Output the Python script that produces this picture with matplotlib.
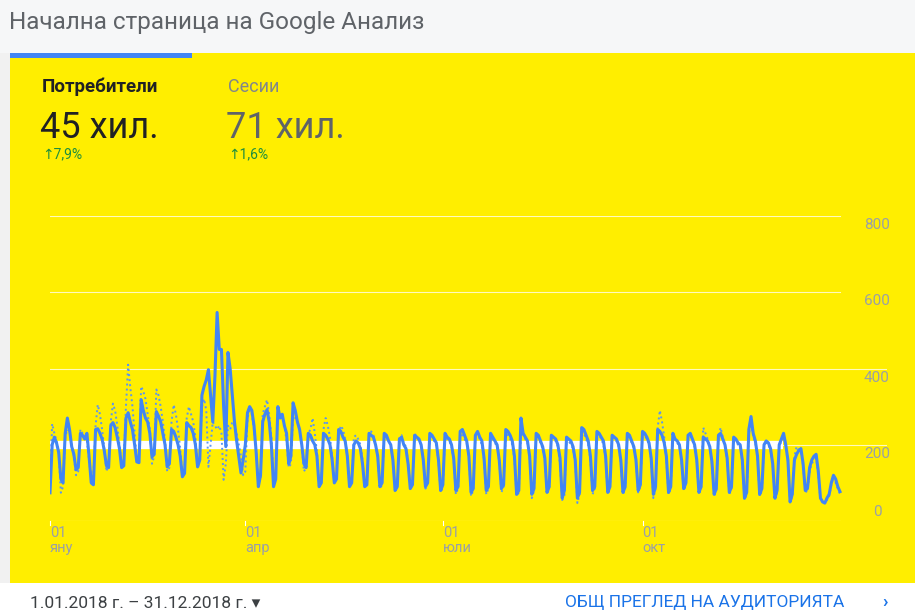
import numpy as np
import matplotlib
matplotlib.use("Agg")
import matplotlib.pyplot as plt
from matplotlib.patches import Rectangle

plt.rcParams['font.family'] = ['Roboto', 'DejaVu Sans']

# daily users 2018 (one row per week, Mon..Sun)
users = [
    74, 200, 220, 205, 180, 110, 100,
    230, 270, 240, 195, 175, 134, 140,
    230, 225, 215, 230, 170, 100, 95,
    240, 242, 230, 215, 185, 145, 140,
    250, 258, 245, 220, 190, 140, 145,
    270, 284, 260, 240, 200, 155, 153,
    318, 290, 270, 260, 230, 168, 175,
    287, 275, 260, 230, 200, 142, 150,
    240, 235, 220, 200, 170, 116, 125,
    258, 250, 245, 230, 200, 142, 160,
    330, 353, 370, 397, 330, 260, 380,
    547, 450, 450, 300, 195, 442, 400,
    330, 260, 210, 168, 126, 160, 200,
    284, 300, 290, 250, 180, 90, 120,
    260, 280, 292, 260, 200, 90, 110,
    300, 270, 280, 250, 230, 150, 170,
    310, 290, 260, 240, 200, 150, 140,
    230, 225, 210, 200, 170, 90, 100,
    230, 225, 215, 200, 160, 100, 110,
    240, 235, 220, 210, 170, 90, 100,
    200, 210, 205, 190, 150, 90, 95,
    230, 225, 220, 200, 170, 90, 100,
    230, 225, 210, 200, 160, 80, 90,
    215, 220, 200, 190, 150, 85, 95,
    225, 220, 215, 200, 160, 90, 100,
    230, 225, 215, 205, 160, 80, 95,
    230, 220, 215, 200, 165, 80, 90,
    235, 240, 225, 210, 170, 75, 85,
    225, 235, 220, 210, 165, 80, 90,
    230, 220, 210, 200, 160, 85, 95,
    240, 235, 225, 210, 170, 70, 80,
    270, 230, 220, 210, 170, 70, 85,
    230, 225, 210, 195, 165, 75, 90,
    225, 220, 215, 200, 165, 60, 80,
    220, 215, 210, 195, 160, 60, 75,
    245, 240, 225, 210, 170, 80, 90,
    235, 230, 220, 210, 170, 75, 90,
    225, 220, 215, 200, 160, 75, 90,
    230, 225, 210, 195, 160, 80, 95,
    235, 230, 220, 205, 165, 70, 90,
    240, 235, 225, 205, 170, 75, 90,
    230, 215, 210, 200, 160, 85, 100,
    225, 230, 215, 200, 160, 75, 90,
    220, 215, 210, 195, 155, 70, 85,
    225, 230, 215, 200, 165, 75, 90,
    220, 215, 205, 200, 160, 60, 75,
    240, 274, 230, 210, 170, 70, 85,
    200, 210, 205, 190, 150, 60, 80,
    200, 215, 230, 200, 160, 50, 70,
    160, 175, 185, 190, 150, 80, 85,
    140, 160, 170, 175, 130, 60, 50,
    47, 60, 70, 100, 120, 110, 90,
    77,
]

# previous period (dotted)
previous = [
    90, 255, 230, 210, 180, 74, 90,
    220, 240, 235, 200, 170, 120, 130,
    240, 230, 220, 210, 160, 110, 120,
    250, 305, 280, 240, 190, 130, 150,
    260, 308, 290, 250, 200, 150, 160,
    300, 410, 350, 300, 230, 160, 170,
    353, 340, 320, 280, 240, 150, 170,
    345, 330, 300, 260, 210, 130, 140,
    260, 305, 280, 240, 190, 120, 130,
    270, 300, 280, 260, 220, 140, 160,
    300, 320, 290, 142, 200, 260, 250,
    240, 250, 230, 108, 150, 250, 240,
    260, 250, 230, 200, 170, 120, 130,
    270, 290, 280, 240, 180, 100, 110,
    280, 300, 318, 280, 220, 110, 120,
    290, 280, 270, 250, 210, 140, 150,
    280, 270, 260, 240, 200, 130, 140,
    230, 240, 270, 230, 180, 90, 100,
    240, 270, 250, 220, 170, 100, 110,
    230, 250, 240, 215, 170, 90, 100,
    220, 225, 215, 200, 160, 90, 95,
    230, 235, 225, 205, 165, 85, 95,
    225, 220, 210, 200, 160, 80, 90,
    220, 225, 205, 195, 155, 85, 95,
    230, 220, 210, 200, 160, 85, 100,
    225, 220, 210, 200, 155, 75, 90,
    220, 215, 210, 195, 160, 70, 85,
    230, 225, 215, 205, 165, 65, 80,
    220, 230, 215, 200, 160, 70, 85,
    225, 215, 205, 195, 155, 75, 90,
    230, 225, 215, 200, 160, 65, 75,
    235, 225, 215, 205, 165, 60, 80,
    225, 220, 205, 190, 160, 70, 85,
    220, 215, 210, 195, 150, 55, 65,
    215, 210, 200, 190, 155, 47, 70,
    246, 230, 215, 200, 160, 70, 85,
    230, 225, 215, 200, 165, 70, 85,
    220, 215, 210, 195, 155, 70, 85,
    225, 220, 205, 190, 155, 75, 90,
    230, 225, 215, 200, 160, 60, 85,
    245, 290, 260, 220, 160, 70, 85,
    225, 215, 205, 195, 155, 80, 95,
    220, 225, 210, 195, 155, 70, 85,
    245, 230, 215, 195, 150, 65, 80,
    220, 245, 220, 200, 160, 70, 85,
    215, 210, 200, 195, 155, 55, 70,
    230, 250, 225, 205, 165, 65, 80,
    195, 205, 200, 185, 145, 55, 75,
    195, 210, 220, 195, 155, 50, 65,
    170, 195, 185, 180, 145, 75, 80,
    130, 150, 160, 165, 120, 55, 50,
    50, 55, 65, 95, 115, 100, 85,
    70,
]

y_ticks = [0, 200, 400, 600, 800]
tick_days = [0, 90, 181, 273]
tick_months = ["яну", "апр", "юли", "окт"]

YELLOW = "#ffee00"
BLUE = "#4285f4"
GREY = "#9aa0a6"

W, H = 915, 612
fig = plt.figure(figsize=(W / 100, H / 100), dpi=100)
fig.patch.set_facecolor("white")


def fx(x):
    return x / W


def fy(y):
    return 1 - y / H


# page background bits
fig.patches.append(Rectangle((0, fy(53)), 1, 1 - fy(53), transform=fig.transFigure,
                             facecolor="#f6f7f8", edgecolor="none", zorder=0))
fig.patches.append(Rectangle((0, fy(583)), fx(10), fy(53) - fy(583), transform=fig.transFigure,
                             facecolor="#f1f1f1", edgecolor="none", zorder=0))
fig.patches.append(Rectangle((fx(10), fy(583)), 1 - fx(10), fy(53) - fy(583),
                             transform=fig.transFigure, facecolor=YELLOW, edgecolor="none", zorder=0))
fig.patches.append(Rectangle((fx(10), fy(58)), fx(192) - fx(10), fy(53) - fy(58),
                             transform=fig.transFigure, facecolor=BLUE, edgecolor="none", zorder=1))

fig.text(fx(9), fy(22), "Начална страница на Google Анализ", fontsize=17.5,
         color="#5f6368", va="center", ha="left")

fig.text(fx(42), fy(87), "Потребители", fontsize=13.5, fontweight="bold",
         color="#202124", va="center")
fig.text(fx(228), fy(87), "Сесии", fontsize=13, color="#80868b", va="center")
fig.text(fx(40), fy(128), "45 хил.", fontsize=26, color="#202124", va="center")
fig.text(fx(226), fy(128), "71 хил.", fontsize=26, color="#5f6368", va="center")
fig.text(fx(42), fy(154), "↑7,9%", fontsize=10, color="#1e8e3e", va="center",
         family=['Roboto', 'DejaVu Sans'])
fig.text(fx(228), fy(154), "↑1,6%", fontsize=10, color="#1e8e3e", va="center",
         family=['Roboto', 'DejaVu Sans'])

fig.text(fx(30), fy(603), "1.01.2018 г. – 31.12.2018 г. ▾", fontsize=12.5,
         color="#3c4043", va="center", family=['Roboto', 'DejaVu Sans'])
fig.text(fx(565), fy(603), "ОБЩ ПРЕГЛЕД НА АУДИТОРИЯТА", fontsize=12.5,
         color="#1a73e8", va="center")
fig.text(fx(885), fy(602), "›", fontsize=13, color="#1a73e8", va="center",
         ha="center", fontweight="bold")

# chart
n_days = len(users)
days = np.arange(n_days)
x_max = (n_days - 1) * (887 - 50) / (840 - 50)
ax = fig.add_axes([fx(50), fy(521), fx(887) - fx(50), fy(216) - fy(521)])
ax.set_zorder(5)
ax.patch.set_visible(False)
ax.set_xlim(0, x_max)
ax.set_ylim(0, 800)
ax.axis("off")

lbl_x = x_max * (877 - 50) / (887 - 50)
for v in y_ticks[1:]:
    right = (840 - 50) / (887 - 50) if v >= 600 else 1
    ax.axhline(v, xmin=0, xmax=right, color="white", lw=0.8, alpha=0.75, zorder=1)
    ax.text(lbl_x, v - 24, str(v), ha="center", va="center", fontsize=11, color=GREY)
ax.axhline(0, xmin=0, xmax=(840 - 50) / (887 - 50), color="white", lw=0.8, alpha=0.8, zorder=1)
ax.text(lbl_x, 24, "0", ha="center", va="center", fontsize=11, color=GREY)

# thick white band at 200
ax.plot([0, (783 - 50) / 2.17], [200, 200], color="white", lw=6, solid_capstyle="butt", zorder=2)

for d, m in zip(tick_days, tick_months):
    ax.plot([d, d], [0, -10], color="white", lw=0.8, clip_on=False)
    ax.text(d, -31, "01", ha="left", va="center", fontsize=10.5, color=GREY, clip_on=False)
    ax.text(d, -71, m, ha="left", va="center", fontsize=10.5, color=GREY, clip_on=False)

ax.plot(days, previous, color="#5b95f0", lw=1.4, ls=(0, (1, 1.6)), zorder=3)
ax.plot(days, users, color=BLUE, lw=2.2, zorder=4, solid_joinstyle="round")

fig.savefig("out.png", dpi=100)
